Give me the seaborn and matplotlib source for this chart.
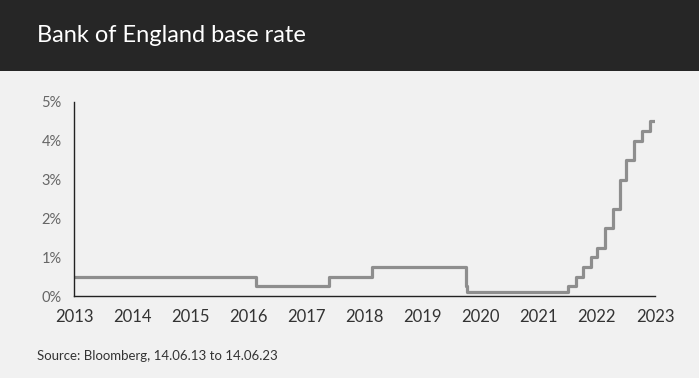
import matplotlib
matplotlib.use("Agg")
import matplotlib.pyplot as plt
import seaborn as sns
import pandas as pd
from matplotlib.patches import Rectangle

# Data: Bank of England base rate changes (effective dates)
change_dates = ["2013-06-14", "2016-08-04", "2017-11-02", "2018-08-02", "2020-03-11",
                "2020-03-19", "2021-12-16", "2022-02-03", "2022-03-17", "2022-05-05",
                "2022-06-16", "2022-08-04", "2022-09-22", "2022-11-03", "2022-12-15",
                "2023-02-02", "2023-03-23", "2023-05-11", "2023-06-14"]
rates = [0.5, 0.25, 0.5, 0.75, 0.25, 0.1, 0.25, 0.5, 0.75, 1.0,
         1.25, 1.75, 2.25, 3.0, 3.5, 4.0, 4.25, 4.5, 4.5]
tick_years = list(range(2013, 2024))
y_ticks = [0, 1, 2, 3, 4, 5]

df = pd.DataFrame({"date": pd.to_datetime(change_dates), "rate": rates})

sns.set_style("white")
plt.rcParams["font.family"] = ["Lato", "DejaVu Sans"]

bg = "#f1f1f1"
fig = plt.figure(figsize=(6.99, 3.78), dpi=100, facecolor=bg)

# header bar
fig.patches.append(Rectangle((0, 1 - 71 / 378), 1, 71 / 378, transform=fig.transFigure,
                             facecolor="#262626", edgecolor="none", zorder=0))
fig.text(37 / 699, 1 - 36 / 378, "Bank of England base rate", color="white",
         fontsize=17, va="center", ha="left")

ax = fig.add_axes([74 / 699, 1 - 296 / 378, (655 - 74) / 699, (296 - 102) / 378])
ax.set_facecolor(bg)
sns.lineplot(data=df, x="date", y="rate", ax=ax, drawstyle="steps-post",
             color="#8e8e8e", linewidth=2.3)

ax.set_xlim(pd.Timestamp("2013-06-14"), pd.Timestamp("2023-06-14"))
ax.set_ylim(0, 5)
ax.set_xticks([pd.Timestamp(f"{y}-06-14") for y in tick_years])
ax.set_xticklabels([str(y) for y in tick_years], fontsize=12, color="#333333")
ax.set_yticks(y_ticks)
ax.set_yticklabels([f"{v}%" for v in y_ticks], fontsize=10.5, color="#666666")
ax.tick_params(axis="x", direction="out", length=6, width=1, color="#222222", pad=3)
ax.tick_params(axis="y", direction="out", length=5, width=1, color="#222222", pad=4)
ax.set_xlabel("")
ax.set_ylabel("")
for s in ["top", "right"]:
    ax.spines[s].set_visible(False)
for s in ["left", "bottom"]:
    ax.spines[s].set_color("#222222")
    ax.spines[s].set_linewidth(1)

fig.text(37 / 699, 1 - 356 / 378, "Source: Bloomberg, 14.06.13 to 14.06.23",
         color="#333333", fontsize=9.5, va="center", ha="left")

fig.savefig("out.png", dpi=100, facecolor=bg)
